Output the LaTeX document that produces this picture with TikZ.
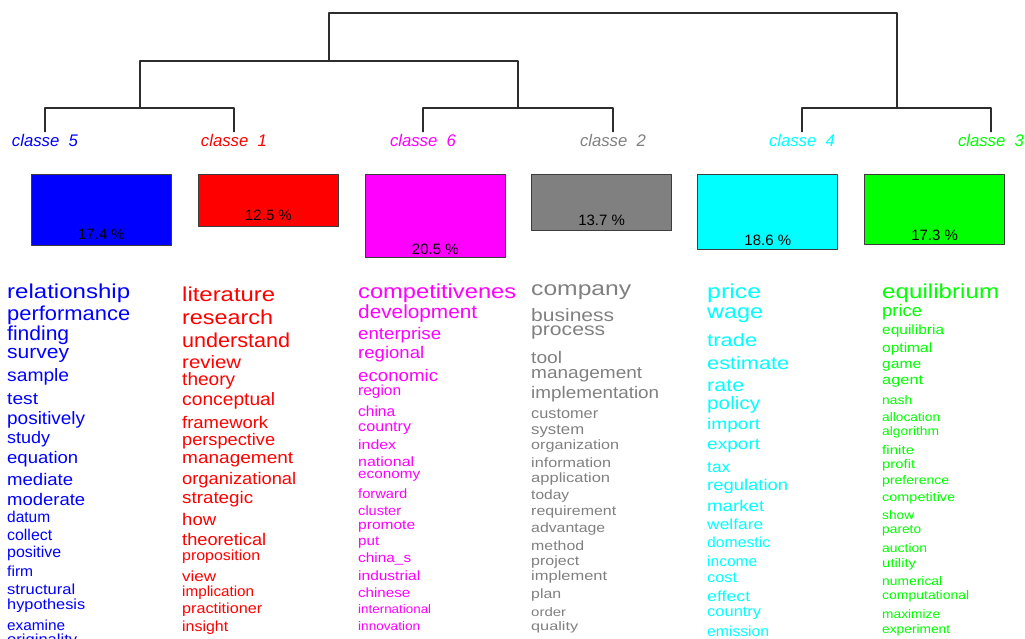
\documentclass[tikz,border=0pt]{standalone}
\usepackage{fontspec}
\setmainfont{Liberation Sans}
\usepackage{graphicx}
\usetikzlibrary{positioning}
\definecolor{treegray}{RGB}{45,45,45}
\definecolor{edgegray}{RGB}{60,60,60}
\definecolor{clblue}{RGB}{0,0,255}
\definecolor{clred}{RGB}{255,0,0}
\definecolor{clmagenta}{RGB}{255,0,255}
\definecolor{clgray}{RGB}{128,128,128}
\definecolor{clcyan}{RGB}{0,255,255}
\definecolor{clgreen}{RGB}{0,255,0}
\newcommand{\wrd}[3]{\fontsize{#1}{#1}\selectfont\resizebox{#2pt}{1.12\height}{#3}}
\tikzset{
  tree/.style={treegray, line width=1.3pt},
  clabel/.style={inner xsep=0pt, inner ysep=2pt},
  clbox/.style={draw=edgegray, line width=1.2pt, minimum width=140pt, anchor=north, inner sep=0pt},
  pct/.style={inner sep=0pt, font=\fontsize{15}{15}\selectfont},
  term/.style={anchor=west, inner sep=0pt}
}
\begin{document}
\begin{tikzpicture}[x=1pt, y=-1pt, line join=round, line cap=round]
	\useasboundingbox (0,0) rectangle (1025,638);
	\clip (0,0) rectangle (1025,638);
	% class labels
	\node[clabel, clblue] (c5) at (45,140) {\wrd{15}{66}{\itshape classe\ \ 5}};
	\node[clabel, clred] (c1) at (234,140) {\wrd{15}{66}{\itshape classe\ \ 1}};
	\node[clabel, clmagenta] (c6) at (423,140) {\wrd{15}{66}{\itshape classe\ \ 6}};
	\node[clabel, clgray] (c2) at (613,140) {\wrd{15}{66}{\itshape classe\ \ 2}};
	\node[clabel, clcyan] (c4) at (802,140) {\wrd{15}{66}{\itshape classe\ \ 4}};
	\node[clabel, clgreen] (c3) at (991,140) {\wrd{15}{66}{\itshape classe\ \ 3}};
	% dendrogram
	\coordinate (j51) at (140,108);
	\coordinate (j62) at (518,108);
	\coordinate (j43) at (897,108);
	\coordinate (j5162) at (329,61);
	\coordinate (jroot) at (613,13);
	\draw[tree] (c5.north) |- (j51) -| (c1.north);
	\draw[tree] (c6.north) |- (j62) -| (c2.north);
	\draw[tree] (c4.north) |- (j43) -| (c3.north);
	\draw[tree] (j51) |- (j5162) -| (j62);
	\draw[tree] (j5162) |- (jroot) -| (j43);
	% boxes
	\node[clbox, fill=clblue, minimum height=71pt] (b5) at (101.5,174) {};
	\node[clbox, fill=clred, minimum height=52pt] (b1) at (268.5,174) {};
	\node[clbox, fill=clmagenta, minimum height=83pt] (b6) at (435.3,174) {};
	\node[clbox, fill=clgray, minimum height=56pt] (b2) at (601.6,174) {};
	\node[clbox, fill=clcyan, minimum height=75pt] (b4) at (767.8,174) {};
	\node[clbox, fill=clgreen, minimum height=70pt] (b3) at (934.6,174) {};
	\node[pct, above=6.5pt of b5.south] (p5) {17.4 \%};
	\node[pct, above=6pt of b1.south] (p1) {12.5 \%};
	\node[pct, above=3pt of b6.south] (p6) {20.5 \%};
	\node[pct, above=5pt of b2.south] (p2) {13.7 \%};
	\node[pct, above=4.5pt of b4.south] (p4) {18.6 \%};
	\node[pct, above=4.5pt of b3.south] (p3) {17.3 \%};
	% words of classe 5
	\foreach \y/\sz/\wdt/\txt [count=\i] in {293/18/123/relationship, 315/18/123/performance,
		335/18/62/finding, 355/17/62/survey, 377/16/62/sample, 399/15/31/test, 420/16/78/positively,
		439/15/43/study, 459/15/71/equation, 479/15/66/mediate, 499/15/78/moderate, 517/14/43/datum,
		535/14/45/collect, 553/14/54/positive, 571/13/26/firm, 589/13/68/structural,
		606/13/78/hypothesis, 625/13/58/examine, 641/13/70/originality}
		\node[term, clblue] (w5-\i) at (7,\y) {\wrd{\sz}{\wdt}{\txt}};
	% words of classe 1
	\foreach \y/\sz/\wdt/\txt [count=\i] in {294/18/93/literature, 317/18/91/research,
		340/18/108/understand, 362/16/59/review, 381/16/53/theory, 401/16/93/conceptual,
		422/15/86/framework, 441/15/93/perspective, 460/15/111/management, 480/15/114/organizational,
		499/15/71/strategic, 519/15/34/how, 539/15/84/theoretical, 557/13/78/proposition,
		576/13/34/view, 593/13/72/implication, 610/13/80/practitioner, 628/13/46/insight}
		\node[term, clred] (w1-\i) at (182,\y) {\wrd{\sz}{\wdt}{\txt}};
	% words of classe 6
	\foreach \y/\sz/\wdt/\txt [count=\i] in {293/18/158/competitivenes, 314/17/119/development,
		335/15/83/enterprise, 354/15/66/regional, 375/15/80/economic, 392/13/43/region,
		411/13/37/china, 428/13/53/country, 445/12/38/index, 462/12/56/national, 476/12/62/economy,
		494/12/49/forward, 511/12/43/cluster, 527/12/57/promote, 543/12/21/put, 559/12/53/china\_s,
		576/12/62/industrial, 593/12/52/chinese, 609/11/73/international, 626/11/62/innovation}
		\node[term, clmagenta] (w6-\i) at (358,\y) {\wrd{\sz}{\wdt}{\txt}};
	% words of classe 2
	\foreach \y/\sz/\wdt/\txt [count=\i] in {292/18/100/company, 315/16/83/business,
		333/16/74/process, 357/15/31/tool, 375/15/111/management, 394/15/128/implementation,
		414/13/67/customer, 431/13/53/system, 446/12/88/organization, 463/12/80/information,
		479/12/79/application, 496/12/38/today, 512/12/85/requirement, 529/12/74/advantage,
		546/12/53/method, 562/12/48/project, 577/12/76/implement, 595/12/30/plan,
		612/11/35/order, 627/11/47/quality}
		\node[term, clgray] (w2-\i) at (531,\y) {\wrd{\sz}{\wdt}{\txt}};
	% words of classe 4
	\foreach \y/\sz/\wdt/\txt [count=\i] in {293/18/54/price, 315/18/56/wage, 340/16/50/trade,
		363/16/82/estimate, 386/16/37/rate, 405/16/53/policy, 425/14/53/import, 446/14/53/export,
		467/14/23/tax, 486/14/81/regulation, 506/14/57/market, 524/13/56/welfare,
		542/13/63/domestic, 561/13/50/income, 578/13/30/cost, 596/13/43/effect,
		613/13/54/country, 631/13/62/emission}
		\node[term, clcyan] (w4-\i) at (707,\y) {\wrd{\sz}{\wdt}{\txt}};
	% words of classe 3
	\foreach \y/\sz/\wdt/\txt [count=\i] in {293/18/117/equilibrium, 312/15/40/price,
		331/12/62/equilibria, 349/12/50/optimal, 366/12/39/game, 382/12/41/agent, 400/11/30/nash,
		417/11/58/allocation, 432/11/57/algorithm, 450/11/32/finite, 465/11/33/profit,
		481/11/67/preference, 498/11/73/competitive, 515/11/32/show, 531/11/39/pareto,
		548/11/45/auction, 564/11/34/utility, 581/11/60/numerical, 596/11/87/computational,
		614/11/58/maximize, 630/11/68/experiment}
		\node[term, clgreen] (w3-\i) at (882,\y) {\wrd{\sz}{\wdt}{\txt}};
\end{tikzpicture}
\end{document}
